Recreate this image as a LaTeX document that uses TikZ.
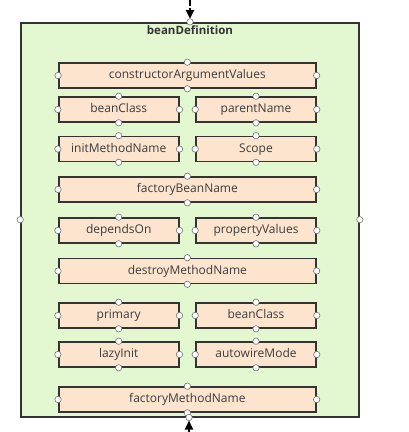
\documentclass[tikz,border=0pt]{standalone}
\usepackage{fontspec}
\setmainfont{Open Sans}
\usetikzlibrary{arrows.meta}

\definecolor{defgreen}{HTML}{E3F8D0}
\definecolor{fieldpeach}{HTML}{FDE4CE}
\definecolor{framegray}{HTML}{333333}
\definecolor{textgray}{HTML}{3C3C3C}

\tikzset{
  field/.style={draw=framegray, line width=1.6pt, fill=fieldpeach, text=textgray,
    minimum height=25pt, inner sep=0pt, text height=9pt, text depth=2.5pt,
    font=\fontsize{12}{14}\selectfont},
  widefield/.style={field, minimum width=257pt},
  halffield/.style={field, minimum width=120pt},
  handle/.style={draw=black!55, fill=white, line width=0.6pt},
  flow/.style={draw=black, line width=2pt, -{Triangle[length=9pt,width=8pt]}}
}

\begin{document}
\begin{tikzpicture}[x=1pt,y=-1pt]
  \useasboundingbox[fill=white] (0,0) rectangle (408,432);

  %% outer container
  \node[draw=framegray, line width=1.6pt, fill=defgreen, minimum width=338pt,
        minimum height=394pt, inner sep=0pt] (beanDef) at (190,219.7) {};
  \node[font=\bfseries\fontsize{11.5}{13}\selectfont, text=framegray] (title) at (190,30) {beanDefinition};

  %% fields
  \node[widefield] (ctorArgs)    at (187.35,75.5)  {constructorArgumentValues};
  \node[halffield] (beanClassA)  at (118.7,109.5)  {beanClass};
  \node[halffield] (parentName)  at (256,109.5)    {parentName};
  \node[halffield] (initMethod)  at (118.7,149)    {initMethodName};
  \node[halffield] (scope)       at (256,149)      {Scope};
  \node[widefield] (factoryBean) at (187.35,189.5) {factoryBeanName};
  \node[halffield] (dependsOn)   at (118.7,230.5)  {dependsOn};
  \node[halffield] (propValues)  at (256,230.5)    {propertyValues};
  \node[widefield] (destroyMeth) at (187.35,271)   {destroyMethodName};
  \node[halffield] (primary)     at (118.7,315.5)  {primary};
  \node[halffield] (beanClassB)  at (256,315.5)    {beanClass};
  \node[halffield] (lazyInit)    at (118.7,354.5)  {lazyInit};
  \node[halffield] (autowire)    at (256,354.5)    {autowireMode};
  \node[widefield] (factoryMeth) at (187.35,399.5) {factoryMethodName};

  %% incoming / outgoing
  \coordinate (inTop) at (190,0);
  \coordinate (inBottom) at (189,432);
  \draw[flow, dash pattern=on 6pt off 2pt, shorten >=3pt] (inTop) -- (beanDef.north);
  \draw[flow, shorten >=3pt] (inBottom) -- ([xshift=-1pt]beanDef.south);

  %% selection handles
  \foreach \n in {ctorArgs,beanClassA,parentName,initMethod,scope,factoryBean,dependsOn,
                  propValues,destroyMeth,primary,beanClassB,lazyInit,autowire,factoryMeth}
    \foreach \a in {north,south,east,west}
      \draw[handle] (\n.\a) circle (3.2pt);
  \foreach \a in {north,east,west}
    \draw[handle] (beanDef.\a) circle (3.2pt);
  \draw[handle] ([xshift=-1pt]beanDef.south) circle (3.2pt);
\end{tikzpicture}
\end{document}
